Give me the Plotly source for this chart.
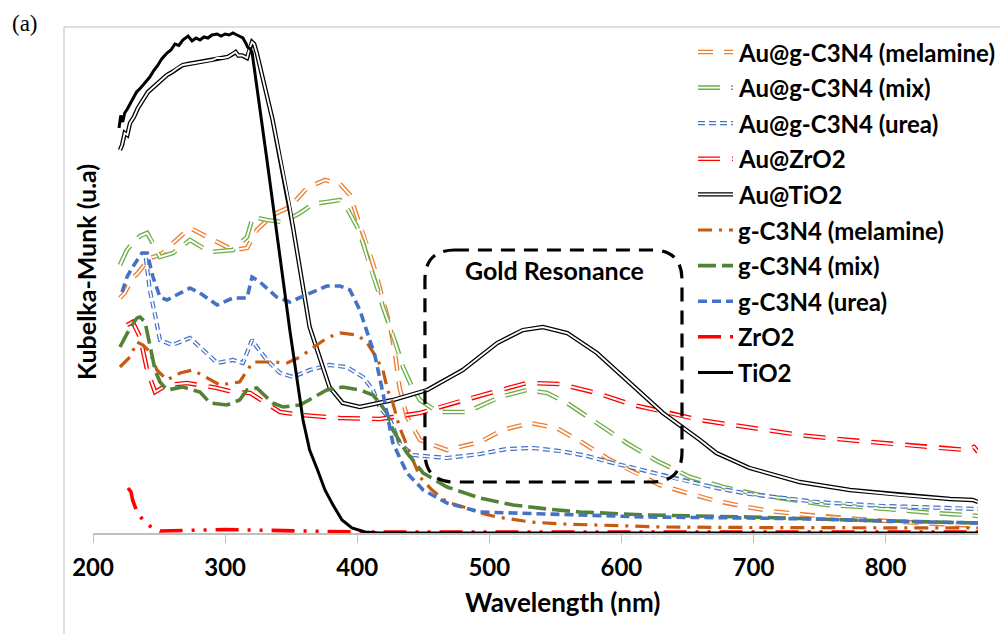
import plotly.graph_objects as go

# ---------------- data (wavelength in nm, Kubelka-Munk in arbitrary units) ----------------
au_mel_x = [220.4, 224, 230, 234, 243, 251, 260.6, 273.4, 291, 306, 316.6, 324, 336, 349, 362, 375.6,
            387, 394.5, 400, 407, 413.5, 419.5, 425, 428.6, 432, 437.7, 447.5, 468, 493, 510, 531, 551,
            571, 589, 609, 629, 649.7, 669, 691, 712.5, 733.7, 755.6, 778, 801, 824, 846.5, 864, 870]
au_mel_y = [0.47, 0.48, 0.51, 0.52, 0.55, 0.556, 0.58, 0.61, 0.586, 0.566, 0.57, 0.606, 0.636, 0.652, 0.69, 0.706,
            0.698, 0.676, 0.632, 0.58, 0.526, 0.466, 0.412, 0.36, 0.292, 0.232, 0.186, 0.166, 0.182, 0.206, 0.22, 0.21,
            0.18, 0.15, 0.122, 0.096, 0.08, 0.066, 0.054, 0.044, 0.038, 0.032, 0.028, 0.024, 0.02, 0.018, 0.014, 0.014]

au_mix_x = [220.4, 225.7, 230, 235.6, 241, 245.4, 250.7, 260.6, 273.4, 288.6, 306, 316.6, 321, 331.7, 343.8,
            356.7, 366.5, 377, 387, 393, 400, 404.4, 409.7, 415, 419.5, 425, 430, 434.7, 441.5, 447.5, 461, 483,
            508, 528.5, 543.7, 558.8, 581.5, 604, 627, 652, 677, 705, 730, 755.6, 783, 808.6, 836, 861.6, 870]
au_mix_y = [0.536, 0.566, 0.58, 0.594, 0.60, 0.58, 0.552, 0.56, 0.586, 0.562, 0.566, 0.592, 0.632, 0.626, 0.622,
            0.64, 0.658, 0.662, 0.666, 0.646, 0.612, 0.58, 0.532, 0.492, 0.452, 0.412, 0.372, 0.332, 0.292, 0.266, 0.242, 0.242,
            0.272, 0.286, 0.28, 0.26, 0.22, 0.18, 0.144, 0.112, 0.092, 0.076, 0.066, 0.056, 0.052, 0.046, 0.04, 0.036, 0.034]

au_urea_x = [240, 243, 247, 250.7, 260, 273.4, 281, 294, 306, 313.5, 320.4, 324, 331.7, 341.6, 351.4, 364, 379,
             392, 404.4, 412, 417, 425, 432, 442, 468, 493, 513, 533, 553.5, 574, 593.6, 616, 639, 672, 697,
             722, 748, 773, 798, 824, 849, 870]
au_urea_y = [0.55, 0.486, 0.436, 0.386, 0.376, 0.39, 0.372, 0.34, 0.346, 0.34, 0.386, 0.372, 0.346, 0.32, 0.312, 0.326, 0.336,
             0.332, 0.312, 0.286, 0.252, 0.226, 0.18, 0.156, 0.15, 0.158, 0.168, 0.17, 0.164, 0.154, 0.14, 0.126, 0.11, 0.09, 0.078,
             0.07, 0.062, 0.058, 0.054, 0.052, 0.05, 0.048]

au_zro2_x = [225.7, 230, 235.6, 241, 247, 256, 271, 294, 306, 319, 341.6, 356.7, 387, 417, 447.5, 475.5, 500.5,
             528.5, 553.5, 581.5, 609, 637, 659.5, 684.5, 710, 735, 763, 788, 816, 841, 861.6, 867, 870]
au_zro2_y = [0.416, 0.422, 0.392, 0.326, 0.282, 0.296, 0.30, 0.29, 0.282, 0.28, 0.242, 0.236, 0.23, 0.228, 0.24, 0.262, 0.28,
             0.30, 0.298, 0.28, 0.256, 0.24, 0.226, 0.216, 0.206, 0.196, 0.188, 0.182, 0.176, 0.17, 0.166, 0.172, 0.162]

au_tio2_x = [220.4, 222, 224, 226, 228, 231, 234, 237, 241.6, 245, 249, 252, 256, 260, 264, 268, 272, 276, 281,
             285, 290, 294, 298, 302, 306, 308, 310, 313, 316.6, 318.5, 320.4, 322, 324, 336, 349, 351.4, 364,
             372, 379, 389, 402, 427, 453, 480, 506, 525.5, 540.6, 559, 581.5, 606.5, 631.5, 659.5, 672, 697,
             735, 773, 811, 849, 866, 870]
au_tio2_y = [0.766, 0.776, 0.80, 0.796, 0.82, 0.832, 0.85, 0.862, 0.882, 0.89, 0.90, 0.908, 0.916, 0.922, 0.93, 0.936, 0.938, 0.94, 0.942,
             0.944, 0.946, 0.95, 0.95, 0.952, 0.958, 0.962, 0.955, 0.955, 0.95, 0.97, 0.982, 0.978, 0.96, 0.826, 0.652, 0.612, 0.412,
             0.346, 0.292, 0.26, 0.252, 0.266, 0.286, 0.326, 0.38, 0.406, 0.412, 0.40, 0.36, 0.30, 0.24, 0.186, 0.16, 0.13,
             0.102, 0.086, 0.076, 0.068, 0.066, 0.062]

g_mel_x = [220.4, 228, 233.3, 237.8, 243, 248.4, 256, 266, 275.7, 286.3, 296, 311, 321, 336, 347, 356.7, 366.5,
           377, 387, 400, 407, 412, 419.5, 423, 427, 432, 440, 447.5, 456.6, 468, 483, 493, 506, 531, 556,
           581.5, 606.5, 631.5, 697, 773, 870]
g_mel_y = [0.332, 0.352, 0.382, 0.376, 0.362, 0.326, 0.306, 0.32, 0.326, 0.31, 0.296, 0.302, 0.342, 0.342, 0.34, 0.352, 0.37,
           0.39, 0.40, 0.396, 0.382, 0.362, 0.326, 0.286, 0.26, 0.212, 0.16, 0.112, 0.086, 0.062, 0.05, 0.04, 0.032, 0.022, 0.018,
           0.016, 0.014, 0.012, 0.011, 0.01, 0.01]

g_mix_x = [220.4, 228, 233.3, 235.6, 239.4, 243, 247, 250.7, 256, 268, 281, 288.6, 301.4, 311, 316.6, 324, 336,
           343.8, 356.7, 377, 389, 402, 412, 417, 422.6, 427, 437.7, 450, 468, 493, 518, 543.7, 568.7, 619,
           697, 773, 870]
g_mix_y = [0.372, 0.41, 0.43, 0.432, 0.422, 0.372, 0.326, 0.302, 0.286, 0.292, 0.282, 0.26, 0.256, 0.266, 0.286, 0.29, 0.26,
           0.252, 0.256, 0.286, 0.292, 0.286, 0.276, 0.26, 0.24, 0.206, 0.16, 0.12, 0.092, 0.07, 0.056, 0.048, 0.042, 0.036,
           0.032, 0.026, 0.02]

g_urea_x = [222, 225.7, 230, 237, 241, 245.4, 250.7, 256, 273.4, 281, 294, 306, 316.6, 320.4, 326.4, 339, 349,
            364, 377, 387, 394.5, 402, 408, 413.5, 419.5, 422.6, 427, 437.7, 450, 468, 493, 518, 543.7, 568.7,
            619, 697, 748, 798, 870]
g_urea_y = [0.482, 0.512, 0.532, 0.56, 0.56, 0.512, 0.472, 0.466, 0.49, 0.48, 0.456, 0.47, 0.47, 0.512, 0.502, 0.472, 0.462,
            0.48, 0.494, 0.494, 0.486, 0.446, 0.40, 0.354, 0.28, 0.236, 0.18, 0.12, 0.086, 0.06, 0.042, 0.04, 0.038, 0.036,
            0.032, 0.03, 0.028, 0.024, 0.02]

zro2_x = [226.5, 228.8, 230, 233.3, 237.8, 243, 250.7, 281, 300, 319, 356.7, 400, 470, 584, 870]
zro2_y = [0.09, 0.082, 0.066, 0.042, 0.026, 0.014, 0.004, 0.006, 0.007, 0.006, 0.004, 0.002, 0.002, 0.002, 0.002]

tio2_x = [219.7, 221, 222.5, 224, 226, 228, 230, 233, 236, 239, 243, 246, 249, 252, 256, 259, 262, 265, 268,
          272, 275, 278, 281, 284, 287, 290, 294, 297, 300, 303, 306, 309, 311, 313.5, 316, 317, 319, 320.4,
          331.7, 337.8, 349, 359, 364, 370, 375.6, 381.7, 388.5, 396, 406, 417, 440, 600, 870]
tio2_y = [0.81, 0.835, 0.822, 0.84, 0.848, 0.858, 0.866, 0.882, 0.89, 0.90, 0.912, 0.925, 0.935, 0.948, 0.96, 0.966, 0.978, 0.975, 0.986,
          0.994, 0.984, 0.99, 0.986, 0.992, 0.99, 0.996, 0.998, 0.994, 0.998, 0.996, 1.0, 0.996, 0.994, 0.99, 0.978, 0.972, 0.968, 0.962,
          0.746, 0.626, 0.406, 0.226, 0.166, 0.126, 0.086, 0.056, 0.026, 0.01, 0.002, 0.0, 0.0, 0.0, 0.0]

# x-axis ticks
x_ticks = [200, 300, 400, 500, 600, 700, 800]

# ---------------- styling ----------------
FONT = "Lato"
BLACK = "#000000"
W, H = 1000, 634
PLOT_L, PLOT_R, PLOT_T, PLOT_B = 93, 978, 23, 533


def px_to_paper(px, py):
    return (px - PLOT_L) / (PLOT_R - PLOT_L), (PLOT_B - py) / (PLOT_B - PLOT_T)


# series: name, x, y, colour, dash, compound (double) line?, width
series = [
    ("Au@g-C3N4 (melamine)", au_mel_x, au_mel_y, "#ED7D31", "15px,11px", True, 4.6),
    ("Au@g-C3N4 (mix)", au_mix_x, au_mix_y, "#70AD47", "22px,11px", True, 4.6),
    ("Au@g-C3N4 (urea)", au_urea_x, au_urea_y, "#4472C4", "7px,4px", True, 4.2),
    ("Au@ZrO2", au_zro2_x, au_zro2_y, "#FF0000", "22px,12px", True, 4.6),
    ("Au@TiO2", au_tio2_x, au_tio2_y, BLACK, "solid", True, 4.4),
    ("g-C3N4 (melamine)", g_mel_x, g_mel_y, "#C55A11", "14px,7px,3px,7px", False, 3.2),
    ("g-C3N4 (mix)", g_mix_x, g_mix_y, "#548235", "18px,6px", False, 3.6),
    ("g-C3N4 (urea)", g_urea_x, g_urea_y, "#4472C4", "9px,5px", False, 3.6),
    ("ZrO2", zro2_x, zro2_y, "#FF0000", "23px,9px,3px,9px,3px,9px", False, 3.6),
    ("TiO2", tio2_x, tio2_y, BLACK, "solid", False, 3.0),
]

fig = go.Figure()
shapes = []
annotations = []

LEG_X0, LEG_X1, LEG_TX = 698, 733, 736
LEG_Y0, LEG_DY = 52, 35.6

for i, (name, xs, ys, color, dash, compound, width) in enumerate(series):
    core = 0.42 * width
    fig.add_trace(go.Scatter(x=xs, y=ys, mode="lines", name=name, showlegend=False,
                             line=dict(color=color, width=width, dash=dash), hoverinfo="skip"))
    if compound:
        # white core turns the stroke into a double line
        fig.add_trace(go.Scatter(x=xs, y=ys, mode="lines", name=name, showlegend=False,
                                 line=dict(color="white", width=core, dash=dash), hoverinfo="skip"))

    # legend entry: line sample + label
    ly = LEG_Y0 + i * LEG_DY
    sx0, sy = px_to_paper(LEG_X0, ly)
    sx1, _ = px_to_paper(LEG_X1, ly)
    shapes.append(dict(type="line", xref="paper", yref="paper", x0=sx0, y0=sy, x1=sx1, y1=sy,
                       line=dict(color=color, width=width, dash=dash)))
    if compound:
        shapes.append(dict(type="line", xref="paper", yref="paper", x0=sx0, y0=sy, x1=sx1, y1=sy,
                           line=dict(color="white", width=core, dash=dash)))
    tx, _ = px_to_paper(LEG_TX, ly)
    annotations.append(dict(text=name, x=tx, y=sy, xref="paper", yref="paper", showarrow=False,
                            xanchor="left", yanchor="middle",
                            font=dict(family=FONT, size=24, color=BLACK, weight=700)))

# "Gold Resonance" rounded, dashed frame (data coordinates)
box_x0, box_x1 = 451.3, 645.9
box_y0, box_y1 = 0.102, 0.566
rx, ry = 22.7, 0.06
box_path = (f"M {box_x0 + rx},{box_y1} L {box_x1 - rx},{box_y1} "
            f"Q {box_x1},{box_y1} {box_x1},{box_y1 - ry} L {box_x1},{box_y0 + ry} "
            f"Q {box_x1},{box_y0} {box_x1 - rx},{box_y0} L {box_x0 + rx},{box_y0} "
            f"Q {box_x0},{box_y0} {box_x0},{box_y0 + ry} L {box_x0},{box_y1 - ry} "
            f"Q {box_x0},{box_y1} {box_x0 + rx},{box_y1} Z")

fx0, fy0 = px_to_paper(64, 27)
fx1, _ = px_to_paper(W, 27)
_, fyb = px_to_paper(64, H)

shapes += [
    dict(type="path", xref="x", yref="y", path=box_path,
         line=dict(color=BLACK, width=3.2, dash="14px,9px"), fillcolor="rgba(0,0,0,0)", layer="above"),
    # chart-area border (top and left edges)
    dict(type="line", xref="paper", yref="paper", x0=fx0, y0=fy0, x1=fx1, y1=fy0,
         line=dict(color="#BFBFBF", width=1)),
    dict(type="line", xref="paper", yref="paper", x0=fx0, y0=fy0, x1=fx0, y1=fyb,
         line=dict(color="#BFBFBF", width=1)),
]

ax_x, ax_y = px_to_paper(86, 272)
xt_x, xt_y = px_to_paper(562, 602)
pa_x, pa_y = px_to_paper(25, 24)

annotations += [
    dict(text="Gold Resonance", x=549.7, y=0.526, xref="x", yref="y", showarrow=False,
         xanchor="center", yanchor="middle",
         font=dict(family=FONT, size=25, color=BLACK, weight=700)),
    dict(text="Kubelka-Munk (u.a)", x=ax_x, y=ax_y, xref="paper", yref="paper", showarrow=False,
         textangle=-90, xanchor="center", yanchor="middle",
         font=dict(family=FONT, size=25, color=BLACK, weight=700)),
    dict(text="Wavelength (nm)", x=xt_x, y=xt_y, xref="paper", yref="paper", showarrow=False,
         xanchor="center", yanchor="middle",
         font=dict(family=FONT, size=26, color=BLACK, weight=700)),
    dict(text="(a)", x=pa_x, y=pa_y, xref="paper", yref="paper", showarrow=False,
         xanchor="center", yanchor="middle",
         font=dict(family="Liberation Serif", size=23, color=BLACK)),
]

fig.update_layout(
    width=W, height=H,
    margin=dict(l=PLOT_L, r=W - PLOT_R, t=PLOT_T, b=H - PLOT_B, pad=0),
    paper_bgcolor="white", plot_bgcolor="white",
    showlegend=False,
    xaxis=dict(range=[200, 870], tickvals=x_ticks, ticktext=[str(v) for v in x_ticks],
               ticks="outside", ticklen=8, tickwidth=1.3, tickcolor="#BFBFBF",
               showline=True, linecolor="#BFBFBF", linewidth=1.5, showgrid=False, zeroline=False,
               tickfont=dict(family=FONT, size=24, color=BLACK, weight=700), ticklabelstandoff=4,
               automargin=False),
    yaxis=dict(range=[0, 1.02], showticklabels=False, ticks="", showgrid=False, zeroline=False,
               showline=False, automargin=False),
    shapes=shapes,
    annotations=annotations,
)

fig.write_html("out.html")
